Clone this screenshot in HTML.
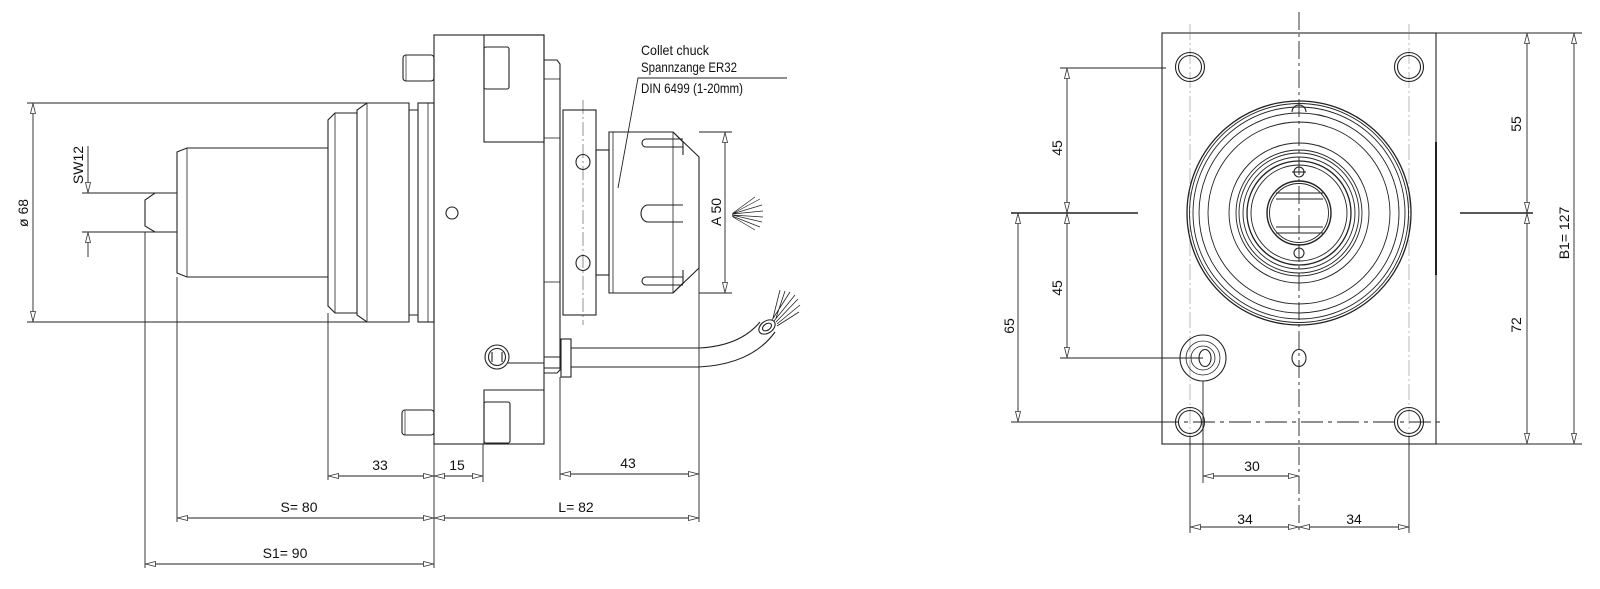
<!DOCTYPE html>
<html><head><meta charset="utf-8"><style>
html,body{margin:0;padding:0;background:#fff}
svg{display:block}
text{font-family:"Liberation Sans Narrow","Liberation Sans",sans-serif;font-size:14px;fill:#111}
</style></head><body>
<svg width="1600" height="589" viewBox="0 0 1600 589" xmlns="http://www.w3.org/2000/svg">
<defs>
<marker id="a" viewBox="0 0 11 6" refX="11" refY="3" markerWidth="11" markerHeight="6" markerUnits="userSpaceOnUse" orient="auto-start-reverse">
<path d="M0.5,0.5 L10.5,3 L0.5,5.5 Z" fill="#fff" stroke="#333" stroke-width="0.8"/>
</marker>
</defs>
<g stroke="#222" stroke-width="1.1" fill="none">
<!-- ===== LEFT VIEW ===== -->
<!-- shaft -->
<path d="M177,193 L155,193 L145,200 L145,226 L155,232 L177,232"/>
<line x1="145" y1="232" x2="145" y2="568" stroke-width="0.9"/>
<!-- cylinder -->
<path d="M328,148 L187,148 L177,152 L177,273 L187,277 L328,277"/>
<line x1="187" y1="148" x2="187" y2="277" stroke-width="0.8"/>
<line x1="177" y1="277" x2="177" y2="522" stroke-width="0.9"/>
<!-- step -->
<path d="M357,113 L335,113 L328,120 L328,306 L335,313 L357,313"/>
<line x1="335" y1="113" x2="335" y2="313" stroke-width="0.8"/>
<line x1="328" y1="313" x2="328" y2="480" stroke-width="0.9"/>
<!-- flange -->
<path d="M409,103 L367,103 L357,110 L357,315 L367,322 L409,322 Z"/>
<line x1="367" y1="103" x2="367" y2="322" stroke-width="0.8"/>
<path d="M409,110 L418,110 M409,315 L418,315"/>
<rect x="418" y="103" width="16" height="219"/>
<line x1="428" y1="103" x2="428" y2="322" stroke-width="0.8"/>
<!-- plate -->
<rect x="434" y="35" width="110" height="409"/>
<line x1="434" y1="444" x2="434" y2="568" stroke-width="0.9"/>
<rect x="484" y="35" width="60" height="107"/>
<rect x="484" y="47" width="25" height="42" rx="2"/>
<path d="M484,444 L484,390 L544,390"/>
<rect x="484" y="402" width="26" height="41" rx="2"/>
<rect x="403" y="55" width="31" height="26" rx="3"/>
<line x1="406" y1="55" x2="406" y2="81" stroke-width="0.7"/>
<rect x="402" y="410" width="32" height="25" rx="3"/>
<line x1="405" y1="410" x2="405" y2="435" stroke-width="0.7"/>
<circle cx="452" cy="213" r="6"/>
<circle cx="497" cy="357" r="12"/>
<circle cx="497" cy="357" r="8.5"/>
<path d="M492,352 L492,362 M502,352 L502,362"/>
<line x1="508" y1="363" x2="544" y2="363"/>
<!-- flange right tab -->
<path d="M544,60 L557,60 L560,64 L560,370 L557,373 L544,373"/>
<line x1="544" y1="79" x2="560" y2="79" stroke-width="0.8"/>
<line x1="544" y1="138" x2="560" y2="138" stroke-width="0.8"/>
<line x1="544" y1="282" x2="560" y2="282" stroke-width="0.8"/>
<line x1="560" y1="377" x2="560" y2="480" stroke-width="0.9"/>
<!-- holder -->
<rect x="563" y="110" width="33" height="205"/>
<line x1="583" y1="100" x2="583" y2="325" stroke-width="0.5" stroke-dasharray="14 3 2 3"/>
<ellipse cx="583" cy="162" rx="7" ry="7.5"/>
<ellipse cx="583" cy="263" rx="7" ry="7.5"/>
<rect x="596" y="150" width="13" height="125"/>
<!-- collet nut -->
<path d="M609,132 L673,132 L699,157 L699,268 L673,293 L609,293 Z"/>
<line x1="613" y1="132" x2="613" y2="293" stroke-width="0.8"/>
<line x1="673" y1="132" x2="673" y2="293" stroke-width="0.8"/>
<path d="M683,139 L646,139 A4,4 0 0 0 646,147 L683,147"/>
<path d="M673,132 L683,142 L683,155"/>
<path d="M683,205 L648,205 A7,8.5 0 0 0 648,222 L683,222"/>
<path d="M683,277 L646,277 A4,4 0 0 0 646,285 L683,285"/>
<path d="M673,293 L683,283 L683,270"/>
<!-- cable -->
<rect x="561" y="339" width="10" height="38"/>
<line x1="544" y1="357" x2="561" y2="357"/><line x1="544" y1="368" x2="561" y2="368"/>
<path d="M571,348 L699,348 Q740,346 760,322"/>
<path d="M571,367 L699,367 Q752,364 775,332"/>
<ellipse cx="767" cy="327" rx="9" ry="6" transform="rotate(-35 767 327)"/>
<ellipse cx="767" cy="327" rx="5" ry="3.2" transform="rotate(-35 767 327)"/>
<g stroke-width="0.8"><path d="M772,320 L790,292 M774,321 L795,295 M776,322 L798,299 M777,324 L800,305 M776,318 L785,291 M777,326 L799,312 M773,318 L780,290"/></g>
<line x1="699" y1="157" x2="699" y2="480" stroke-width="0.9"/>
<!-- spray -->
<g stroke-width="0.7"><path d="M732,214 L760,199 M732,214 L762,205 M732,214 L763,211 M732,215 L763,217 M732,215 L762,222 M732,216 L760,227 M733,213 L755,197 M733,217 L755,230"/></g>
<!-- leader -->
<path d="M618,188 L638,78 L787,78" stroke-width="0.9"/>
<!-- dims left -->
<g stroke-width="0.9">
<path d="M27,103 L409,103 M27,322 L409,322"/>
<line x1="33" y1="103" x2="33" y2="322" marker-start="url(#a)" marker-end="url(#a)"/>
<path d="M82,193 L177,193 M82,232 L177,232"/>
<line x1="88" y1="146" x2="88" y2="193" marker-end="url(#a)"/>
<line x1="88" y1="257" x2="88" y2="232" marker-end="url(#a)"/>
<path d="M699,132 L732,132 M699,293 L732,293"/>
<line x1="725" y1="132" x2="725" y2="293" marker-start="url(#a)" marker-end="url(#a)"/>
<line x1="328" y1="476" x2="434" y2="476" marker-start="url(#a)" marker-end="url(#a)"/>
<line x1="434" y1="476" x2="483" y2="476" marker-start="url(#a)" marker-end="url(#a)"/>
<line x1="483" y1="444" x2="483" y2="482"/>
<line x1="560" y1="474" x2="699" y2="474" marker-start="url(#a)" marker-end="url(#a)"/>
<line x1="177" y1="518" x2="434" y2="518" marker-start="url(#a)" marker-end="url(#a)"/>
<line x1="434" y1="518" x2="699" y2="518" marker-start="url(#a)" marker-end="url(#a)"/>
<line x1="699" y1="480" x2="699" y2="522"/>
<line x1="145" y1="564" x2="434" y2="564" marker-start="url(#a)" marker-end="url(#a)"/>
</g>

<!-- ===== RIGHT VIEW ===== -->
<rect x="1162" y="33" width="274" height="411"/>
<path d="M1436,33 L1582,33 M1436,444 L1582,444"/>
<line x1="1436" y1="142" x2="1436" y2="275" stroke-width="2"/>
<g stroke-width="0.5" stroke="#777" stroke-dasharray="16 3 2 3">
<line x1="1190" y1="24" x2="1190" y2="444"/><line x1="1409" y1="24" x2="1409" y2="444"/>
</g>
<line x1="1299" y1="12" x2="1299" y2="534" stroke-width="0.9" stroke-dasharray="18 4 3 4"/>
<line x1="1157" y1="422" x2="1443" y2="422" stroke-width="1.1" stroke-dasharray="22 5 4 5"/>
<!-- corner holes -->
<g>
<circle cx="1190" cy="67" r="14.5"/><circle cx="1190" cy="67" r="11.5"/>
<circle cx="1409" cy="67" r="14.5"/><circle cx="1409" cy="67" r="11.5"/>
<circle cx="1190" cy="422" r="14.5"/><circle cx="1190" cy="422" r="11.5"/>
<circle cx="1409" cy="422" r="14.5"/><circle cx="1409" cy="422" r="11.5"/>
</g>
<!-- big rings -->
<g stroke-width="0.9">
<circle cx="1299" cy="213" r="112" stroke-width="1.3"/>
<circle cx="1299" cy="213" r="109.5"/>
<circle cx="1299" cy="213" r="106"/>
<circle cx="1299" cy="213" r="100"/>
<circle cx="1299" cy="213" r="91"/>
<circle cx="1299" cy="213" r="70"/>
<circle cx="1299" cy="213" r="63"/>
<circle cx="1299" cy="213" r="60"/>
<circle cx="1299" cy="213" r="56"/>
<circle cx="1299" cy="213" r="52" stroke-width="1.3"/>
<circle cx="1299" cy="213" r="48"/>
<circle cx="1299" cy="213" r="32" stroke-width="1.4"/>
<circle cx="1299" cy="213" r="29.5"/>
</g>
<path d="M1292,112 A7,7 0 0 1 1306,112"/>
<circle cx="1299" cy="172" r="5"/><path d="M1292,172 L1306,172"/>
<circle cx="1299" cy="253" r="5"/>
<path d="M1276,193 L1323,193 M1276,199 L1323,199 M1276,227 L1323,227 M1276,233 L1323,233" stroke-width="1.1"/>
<ellipse cx="1299" cy="358" rx="7" ry="8.5"/>
<!-- fitting -->
<circle cx="1203" cy="358" r="23"/>
<circle cx="1203" cy="358" r="17" stroke-width="0.8"/>
<circle cx="1203" cy="358" r="12" stroke-width="0.8"/>
<ellipse cx="1205" cy="358" rx="6" ry="8.5"/>
<!-- right view dims -->
<g stroke-width="0.9">
<path d="M1060,68 L1166,68 M1060,358 L1203,358 M1011,422 L1176,422"/>
<line x1="1011" y1="213" x2="1138" y2="213" stroke-width="1.5"/>
<line x1="1067" y1="68" x2="1067" y2="213" marker-start="url(#a)" marker-end="url(#a)"/>
<line x1="1067" y1="213" x2="1067" y2="358" marker-start="url(#a)" marker-end="url(#a)"/>
<line x1="1018" y1="213" x2="1018" y2="422" marker-start="url(#a)" marker-end="url(#a)"/>
<line x1="1460" y1="213" x2="1533" y2="213" stroke-width="1.5"/>
<line x1="1527" y1="33" x2="1527" y2="213" marker-start="url(#a)" marker-end="url(#a)"/>
<line x1="1527" y1="213" x2="1527" y2="444" marker-start="url(#a)" marker-end="url(#a)"/>
<line x1="1574" y1="33" x2="1574" y2="444" marker-start="url(#a)" marker-end="url(#a)"/>
<path d="M1203,381 L1203,483 M1190,436 L1190,533 M1409,436 L1409,533"/>
<line x1="1203" y1="476" x2="1299" y2="476" marker-start="url(#a)" marker-end="url(#a)"/>
<line x1="1190" y1="527" x2="1299" y2="527" marker-start="url(#a)" marker-end="url(#a)"/>
<line x1="1299" y1="527" x2="1409" y2="527" marker-start="url(#a)" marker-end="url(#a)"/>
</g>
</g>

<!-- TEXT -->
<text x="641" y="55" textLength="68" lengthAdjust="spacingAndGlyphs">Collet chuck</text>
<text x="641" y="72" textLength="96" lengthAdjust="spacingAndGlyphs">Spannzange ER32</text>
<text x="641" y="93" textLength="102" lengthAdjust="spacingAndGlyphs">DIN 6499 (1-20mm)</text>
<text transform="translate(28,213) rotate(-90)" text-anchor="middle" font-size="12">ø 68</text>
<text transform="translate(83,165) rotate(-90)" text-anchor="middle" font-size="13">SW12</text>
<text transform="translate(721,212) rotate(-90)" text-anchor="middle" font-size="13">A 50</text>
<text x="380" y="470" text-anchor="middle">33</text>
<text x="457" y="470" text-anchor="middle">15</text>
<text x="628" y="468" text-anchor="middle">43</text>
<text x="299" y="512" text-anchor="middle">S= 80</text>
<text x="576" y="512" text-anchor="middle">L= 82</text>
<text x="285" y="558" text-anchor="middle">S1=  90</text>
<text transform="translate(1062,148) rotate(-90)" text-anchor="middle">45</text>
<text transform="translate(1062,288) rotate(-90)" text-anchor="middle">45</text>
<text transform="translate(1014,326) rotate(-90)" text-anchor="middle">65</text>
<text transform="translate(1521,124) rotate(-90)" text-anchor="middle">55</text>
<text transform="translate(1521,325) rotate(-90)" text-anchor="middle">72</text>
<text transform="translate(1569,233) rotate(-90)" text-anchor="middle">B1=  127</text>
<text x="1252" y="471" text-anchor="middle">30</text>
<text x="1245" y="524" text-anchor="middle">34</text>
<text x="1354" y="524" text-anchor="middle">34</text>
</svg>
</body></html>
